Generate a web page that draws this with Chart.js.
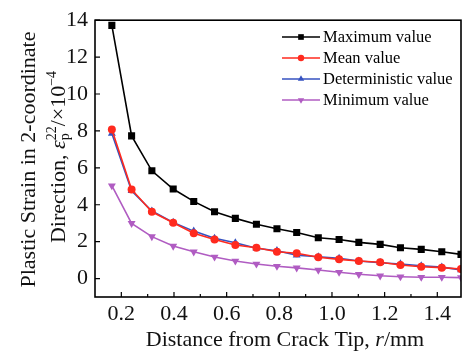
<!DOCTYPE html>
<html>
<head>
<meta charset="utf-8">
<script src="https://cdn.jsdelivr.net/npm/chart.js@4.4.1/dist/chart.umd.min.js"></script>
<style>
  html, body { margin: 0; padding: 0; background: #fff; }
  #wrap { width: 466px; height: 358px; }
</style>
</head>
<body>
<div id="wrap"><canvas id="c" width="466" height="358"></canvas></div>
<script>
// Distance from crack tip r (mm) and plastic strain values (x10^-4)
const distance  = [0.164, 0.239, 0.316, 0.397, 0.475, 0.554, 0.633, 0.713, 0.791, 0.866, 0.948, 1.027, 1.102, 1.183, 1.260, 1.339, 1.417, 1.490];
const maxValue  = [13.72, 7.73, 5.84, 4.85, 4.18, 3.62, 3.26, 2.94, 2.70, 2.50, 2.21, 2.12, 1.96, 1.85, 1.67, 1.58, 1.45, 1.31];
const meanValue = [8.08, 4.83, 3.62, 3.02, 2.45, 2.12, 1.82, 1.67, 1.45, 1.37, 1.15, 1.04, 0.95, 0.88, 0.73, 0.64, 0.59, 0.52];
const detValue  = [7.86, 4.76, 3.66, 3.04, 2.57, 2.18, 1.94, 1.64, 1.51, 1.27, 1.18, 1.10, 0.95, 0.86, 0.79, 0.69, 0.62, 0.47];
const minValue  = [5.03, 2.99, 2.27, 1.76, 1.45, 1.17, 0.95, 0.79, 0.67, 0.58, 0.46, 0.34, 0.23, 0.15, 0.10, 0.07, 0.07, 0.05];
const seriesNames = ['Maximum value', 'Mean value', 'Deterministic value', 'Minimum value'];
const xTicks = [0.2, 0.4, 0.6, 0.8, 1.0, 1.2, 1.4];
const xMinorTicks = [0.3, 0.5, 0.7, 0.9, 1.1, 1.3];
const yTicks = [0, 2, 4, 6, 8, 10, 12, 14];

const SERIF = '"Liberation Serif", "Times New Roman", serif';

function points(values) {
  return values.map((v, i) => ({ x: distance[i], y: v }));
}

function series(label, values, color, style, radius, rotation) {
  return {
    label: label,
    data: points(values),
    borderColor: color,
    backgroundColor: color,
    borderWidth: 1.6,
    pointStyle: style,
    pointRadius: radius,
    pointRotation: rotation || 0,
    pointBorderWidth: 0,
    pointBackgroundColor: color,
    tension: 0
  };
}

// Draws the frame, inward ticks, legend and rich-text axis titles
const decor = {
  id: 'decor',
  afterDraw(chart) {
    const ctx = chart.ctx;
    const a = chart.chartArea;
    const xs = chart.scales.x, ys = chart.scales.y;
    ctx.save();

    ctx.strokeStyle = '#000';
    ctx.lineWidth = 1.6;
    ctx.strokeRect(a.left, a.top, a.right - a.left, a.bottom - a.top);

    ctx.lineWidth = 1.2;
    ctx.beginPath();
    xTicks.forEach(v => { const p = xs.getPixelForValue(v); ctx.moveTo(p, a.bottom); ctx.lineTo(p, a.bottom - 5); });
    xMinorTicks.forEach(v => { const p = xs.getPixelForValue(v); ctx.moveTo(p, a.bottom); ctx.lineTo(p, a.bottom - 3); });
    yTicks.forEach(v => { const p = ys.getPixelForValue(v); ctx.moveTo(a.left, p); ctx.lineTo(a.left + 5, p); });
    ctx.stroke();

    // legend
    chart.data.datasets.forEach((ds, i) => {
      const yRow = 37 + i * 21;
      ctx.strokeStyle = ds.borderColor;
      ctx.lineWidth = 1.6;
      ctx.beginPath();
      ctx.moveTo(282, yRow); ctx.lineTo(320, yRow);
      ctx.stroke();
      ctx.fillStyle = ds.borderColor;
      Chart.helpers.drawPoint(ctx, { pointStyle: ds.pointStyle, rotation: ds.pointRotation, radius: ds.pointRadius * 0.8, borderWidth: 0 }, 301, yRow);
      ctx.fillStyle = '#000';
      ctx.font = '16.5px ' + SERIF;
      ctx.textAlign = 'left';
      ctx.textBaseline = 'middle';
      ctx.fillText(ds.label, 323, yRow + 1);
    });

    // rich text helper: runs of [text, font, baselineShift]
    function runs(parts, cx, cy, rotate) {
      ctx.save();
      ctx.translate(cx, cy);
      if (rotate) ctx.rotate(-Math.PI / 2);
      ctx.textAlign = 'left';
      ctx.textBaseline = 'alphabetic';
      ctx.fillStyle = '#111';
      let total = 0;
      const widths = parts.map(p => {
        let w = 0;
        p.pieces.forEach(q => { ctx.font = q.font; w = Math.max(w, ctx.measureText(q.text).width); });
        total += w;
        return w;
      });
      let x = -total / 2;
      parts.forEach((p, i) => {
        p.pieces.forEach(q => { ctx.font = q.font; ctx.fillText(q.text, x, q.dy || 0); });
        x += widths[i];
      });
      ctx.restore();
    }
    const F = '22px ' + SERIF, FI = 'italic 22px ' + SERIF, FS = '14px ' + SERIF;

    runs([
      { pieces: [{ text: 'Distance from Crack Tip, ', font: F }] },
      { pieces: [{ text: 'r', font: FI }] },
      { pieces: [{ text: '/mm', font: F }] }
    ], 285, 346, false);

    runs([{ pieces: [{ text: 'Plastic Strain in 2-coordinate', font: F }] }], 35, 159.5, true);
    runs([
      { pieces: [{ text: 'Direction, ', font: F }] },
      { pieces: [{ text: '\u03b5', font: FI }] },
      { pieces: [{ text: '22', font: FS, dy: -9 }, { text: 'p', font: FS, dy: 4 }] },
      { pieces: [{ text: '/\u00d710', font: F }] },
      { pieces: [{ text: '\u22124', font: FS, dy: -9 }] }
    ], 65, 157, true);

    ctx.restore();
  }
};

new Chart(document.getElementById('c'), {
  type: 'line',
  data: {
    datasets: [
      series(seriesNames[0], maxValue, '#000000', 'rect', 5),
      series(seriesNames[1], meanValue, '#ff2a1e', 'circle', 4),
      series(seriesNames[2], detValue, '#3652c0', 'triangle', 4.6),
      series(seriesNames[3], minValue, '#b05cc2', 'triangle', 4.6, 180)
    ]
  },
  options: {
    responsive: false,
    animation: false,
    devicePixelRatio: 1,
    layout: { padding: { left: 0, right: 1, top: 20, bottom: 0 } },
    plugins: { legend: { display: false }, tooltip: { enabled: false } },
    scales: {
      x: {
        type: 'linear',
        min: 0.1,
        max: 1.49,
        afterBuildTicks: s => { s.ticks = xTicks.map(v => ({ value: v })); },
        afterFit: s => { s.height = 61; },
        grid: { display: false, drawTicks: false },
        border: { display: false },
        ticks: { font: { family: SERIF, size: 22 }, color: '#111', padding: 4, maxRotation: 0, autoSkip: false, callback: v => Number(v).toFixed(1) }
      },
      y: {
        type: 'linear',
        min: -1,
        max: 14,
        afterBuildTicks: s => { s.ticks = yTicks.map(v => ({ value: v })); },
        afterFit: s => { s.width = 95; },
        grid: { display: false, drawTicks: false },
        border: { display: false },
        ticks: { font: { family: SERIF, size: 22 }, color: '#111', padding: 7, autoSkip: false, callback: v => String(v) }
      }
    }
  },
  plugins: [decor]
});
</script>
</body>
</html>
